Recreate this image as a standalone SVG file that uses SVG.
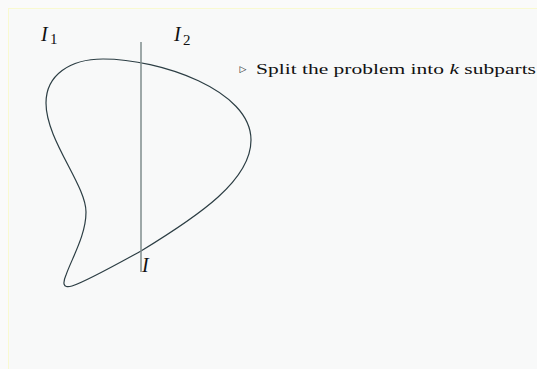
<svg xmlns="http://www.w3.org/2000/svg" width="537" height="369" viewBox="0 0 537 369">
<style>
text{font-family:"Liberation Serif","Times New Roman","DejaVu Serif",serif;fill:#111;}
.it{font-style:italic;font-size:20px;}
.sub{font-size:15px;}
</style>
<rect x="0" y="0" width="537" height="369" fill="#fafafa"/>
<rect x="8.5" y="8.5" width="540" height="370" fill="#f8f9f9" stroke="#f9f9d0" stroke-width="1"/>
<g id="connectors">
<path id="blob" d="M103,59 C160,59 251,90 251,140 C251,180 200,215 141,251 C110,268 85,282 72,286 C62,289 63,282 66,275 C72,258 86,235 86,212 C86,185 46,140 46,103 C46,75 70,59 103,59 Z" fill="none" stroke="#2c3e44" stroke-width="1.2"/>
<line id="split" x1="141" y1="42" x2="141" y2="272" stroke="#7f8c8d" stroke-width="1.5"/>
</g>
<g id="label-I1"><text class="it" x="41" y="41">I</text><text class="sub" x="50" y="44">1</text></g>
<g id="label-I2"><text class="it" x="174" y="41">I</text><text class="sub" x="183" y="45">2</text></g>
<g id="label-I"><text class="it" x="142" y="272">I</text></g>
<g id="note"><text x="239.5" y="72" font-size="9">▷</text><text x="256" y="74" font-size="15.5" textLength="280" lengthAdjust="spacingAndGlyphs">Split the problem into <tspan font-style="italic">k</tspan> subparts</text></g>
</svg>
